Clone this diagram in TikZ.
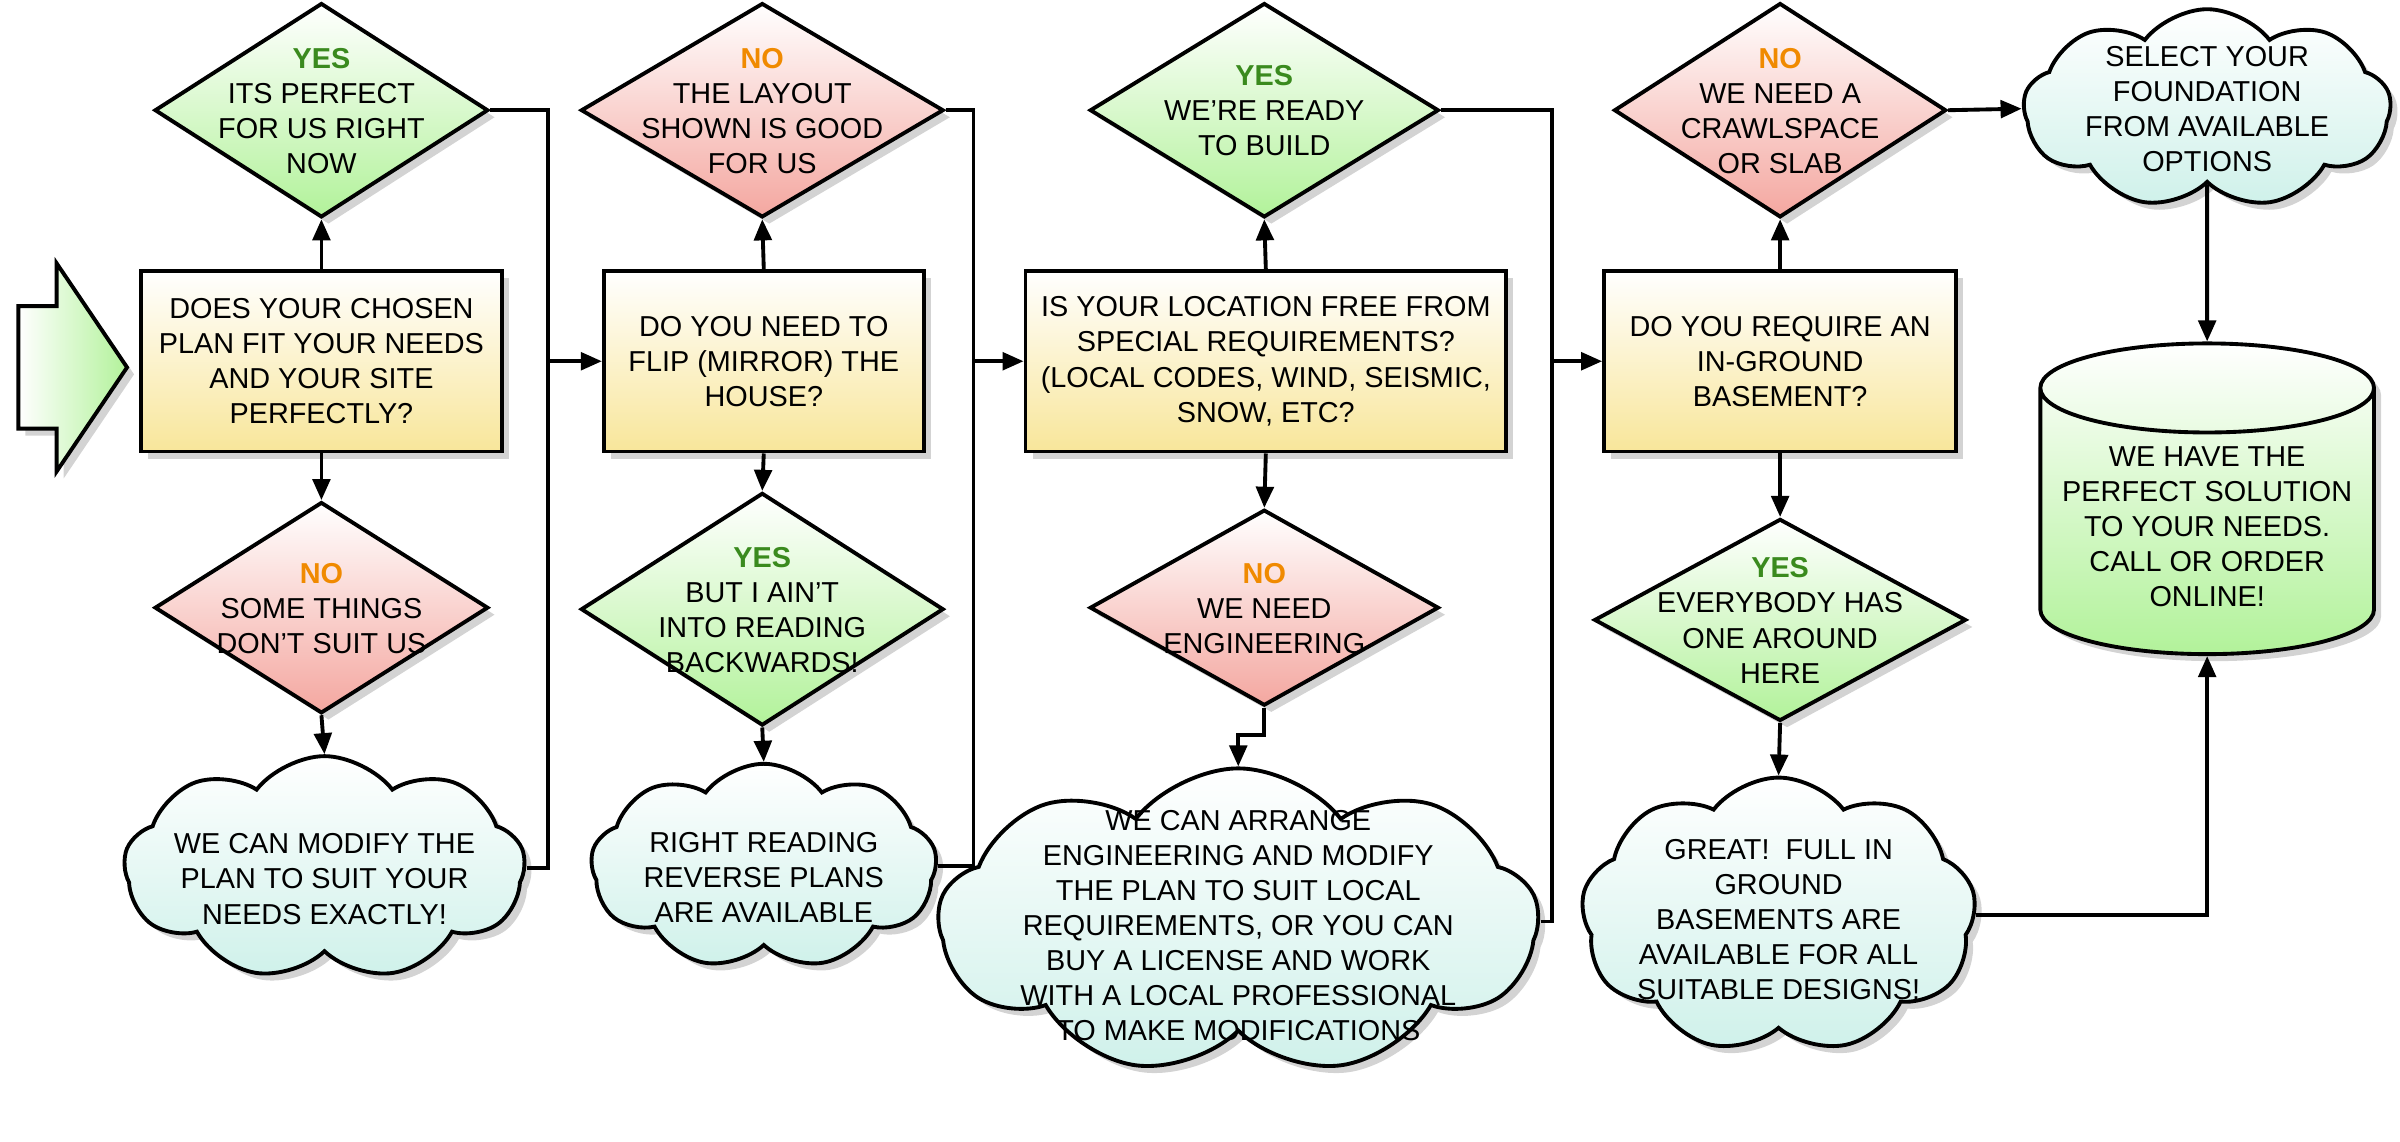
\documentclass[tikz,border=0pt]{standalone}
\usepackage{fontspec}
\setmainfont{Liberation Sans}
\usetikzlibrary{shapes.geometric,shapes.symbols,shadows,arrows.meta}

\def\px{0.01531cm}
\definecolor{boxyel}{HTML}{F8E69A}
\definecolor{yesgreen}{HTML}{B2F29A}
\definecolor{nored}{HTML}{F4A7A0}
\definecolor{cloudcyan}{HTML}{CFF1EA}
\definecolor{yestext}{HTML}{3A8A1E}
\definecolor{notext}{HTML}{F08A00}

\tikzset{
  base/.style={draw=black, line width=1.1pt, align=center, inner sep=1pt,
    font=\fontsize{8.2}{10}\selectfont, drop shadow={opacity=0.35, shadow xshift=2pt, shadow yshift=-2pt}},
  question/.style={base, rectangle, top color=white, bottom color=boxyel,
    minimum height=118*\px},
  yes/.style={base, diamond, top color=white, bottom color=yesgreen, inner sep=0pt},
  no/.style={base, diamond, top color=white, bottom color=nored, inner sep=0pt},
  answer/.style={base, cloud, cloud puffs=9, cloud puff arc=105, cloud ignores aspect,
    top color=white, bottom color=cloudcyan, inner sep=0pt},
  link/.style={line width=1.1pt, -{Triangle[length=6pt,width=5pt]}},
  line/.style={line width=1.1pt},
}
\newcommand{\yes}{\textcolor{yestext}{\textbf{YES}}}
\newcommand{\no}{\textcolor{notext}{\textbf{NO}}}
\newcommand{\tx}[2][-3pt]{\makebox[0pt]{\raisebox{#1}[0pt][0pt]{\begin{tabular}{@{}c@{}}#2\end{tabular}}}}

\begin{document}
\begin{tikzpicture}[x=\px, y=-\px]
\useasboundingbox (0,0) rectangle (1568,746);

% entry arrow
\draw[line width=1.1pt, left color=white, right color=yesgreen,
      drop shadow={opacity=0.35, shadow xshift=2pt, shadow yshift=-2pt}]
    (12,200) -- (37,200) -- (37,172) -- (83,240) -- (37,308) -- (37,280) -- (12,280) -- cycle;

% column 1
\node[question, minimum width=236*\px] (q1) at (210,236) {DOES YOUR CHOSEN\\PLAN FIT YOUR NEEDS\\AND YOUR SITE\\PERFECTLY?};
\node[yes, minimum width=218*\px, minimum height=140*\px] (y1) at (210,72) {\tx{\yes\\ITS PERFECT\\FOR US RIGHT\\NOW}};
\node[no, minimum width=218*\px, minimum height=138*\px] (n1) at (210,397) {\tx{\no\\SOME THINGS\\DON'T SUIT US}};
\node[answer, minimum width=262*\px, minimum height=146*\px] (a1) at (212,567) {\tx[-6pt]{WE CAN MODIFY THE\\PLAN TO SUIT YOUR\\NEEDS EXACTLY!}};

% column 2
\node[question, minimum width=209*\px] (q2) at (499,236) {DO YOU NEED TO\\FLIP (MIRROR) THE\\HOUSE?};
\node[no, minimum width=237*\px, minimum height=140*\px] (n2) at (498,72) {\tx{\no\\THE LAYOUT\\SHOWN IS GOOD\\FOR US}};
\node[yes, minimum width=237*\px, minimum height=152*\px] (y2) at (498,398) {\tx{\yes\\BUT I AIN'T\\INTO READING\\BACKWARDS!}};
\node[answer, minimum width=226*\px, minimum height=134*\px] (a2) at (499,566) {\tx[-6pt]{RIGHT READING\\REVERSE PLANS\\ARE AVAILABLE}};

% column 3
\node[question, minimum width=314*\px] (q3) at (827,236) {IS YOUR LOCATION FREE FROM\\SPECIAL REQUIREMENTS?\\(LOCAL CODES, WIND, SEISMIC,\\SNOW, ETC?};
\node[yes, minimum width=228*\px, minimum height=140*\px] (y3) at (826,72) {\tx{\yes\\WE'RE READY\\TO BUILD}};
\node[no, minimum width=228*\px, minimum height=128*\px] (n3) at (826,397) {\tx{\no\\WE NEED\\ENGINEERING}};
\node[answer, minimum width=392*\px, minimum height=200*\px] (a3) at (809,602) {\tx[-4pt]{WE CAN ARRANGE\\ENGINEERING AND MODIFY\\THE PLAN TO SUIT LOCAL\\REQUIREMENTS, OR YOU CAN\\BUY A LICENSE AND WORK\\WITH A LOCAL PROFESSIONAL\\TO MAKE MODIFICATIONS}};

% column 4
\node[question, minimum width=230*\px] (q4) at (1163,236) {DO YOU REQUIRE AN\\IN-GROUND\\BASEMENT?};
\node[no, minimum width=217*\px, minimum height=140*\px] (n4) at (1163,72) {\tx{\no\\WE NEED A\\CRAWLSPACE\\OR SLAB}};
\node[yes, minimum width=243*\px, minimum height=132*\px] (y4) at (1163,405) {\tx{\yes\\EVERYBODY HAS\\ONE AROUND\\HERE}};
\node[answer, minimum width=258*\px, minimum height=180*\px] (a4) at (1162,598) {\tx[-4pt]{GREAT!\ \ FULL IN\\GROUND\\BASEMENTS ARE\\AVAILABLE FOR ALL\\SUITABLE DESIGNS!}};

% column 5
\node[answer, minimum width=240*\px, minimum height=130*\px] (a5) at (1442,71) {\tx{SELECT YOUR\\FOUNDATION\\FROM AVAILABLE\\OPTIONS}};
\node[base, cylinder, shape border rotate=90, aspect=0.3, top color=white, bottom color=yesgreen,
      minimum width=218*\px, minimum height=203*\px] (done) at (1442,344) {WE HAVE THE\\PERFECT SOLUTION\\TO YOUR NEEDS.\\CALL OR ORDER\\ONLINE!};

% branches
\foreach \q/\u/\d in {q1/y1/n1, q2/n2/y2, q3/y3/n3, q4/n4/y4} {
  \draw[link] (\q.north) -- (\u.south);
  \draw[link] (\q.south) -- (\d.north);
}
\draw[link] (n1.south) -- (a1.north);
\draw[link] (y2.south) -- (a2.north);
\draw[link] (y4.south) -- (a4.north);
\draw[link] (n3.south) -- ++(0,18) -| (a3.north);

% collectors
\coordinate (j1) at (358,236);
\coordinate (j2) at (636,236);
\coordinate (j3) at (1014,236);
\draw[line] (y1.east) -| (j1) |- (a1.east);
\draw[link] (j1) -- (q2.west);
\draw[line] (n2.east) -| (j2) |- (a2.east);
\draw[link] (j2) -- (q3.west);
\draw[line] (y3.east) -| (j3) |- (a3.east);
\draw[link] (j3) -- (q4.west);

% foundation
\draw[link] (n4.east) -- (a5.west);
\draw[link] (a5.south) -- (done.north);
\draw[link] (a4.east) -| (done.south);

\end{tikzpicture}
\end{document}
